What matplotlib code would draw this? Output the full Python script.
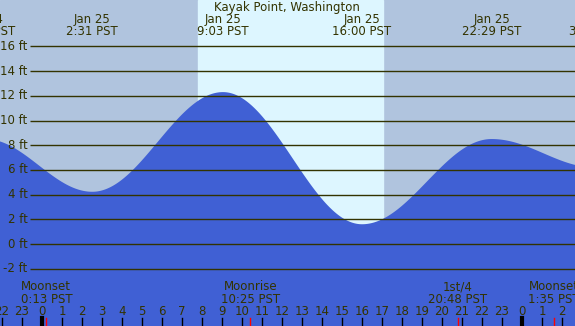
import numpy as np
import matplotlib.pyplot as plt

# tide extremes, hours from Jan 25 00:00 PST
tide_hours = [-2.83, 2.517, 9.05, 16.0, 22.483, 27.65]
tide_feet = [8.5, 4.23, 12.3, 1.6, 8.5, 6.2]
tide_labels = ['21:10 PST', '2:31 PST', '9:03 PST', '16:00 PST', '22:29 PST', '3:39 PST']
tide_dates = ['Jan 24', 'Jan 25', 'Jan 25', 'Jan 25', 'Jan 25', 'Jan 26']

# moon events
moon_hours = [0.217, 10.417, 20.8, 25.583]
moon_names = ['Moonset', 'Moonrise', '1st/4', 'Moonset']
moon_times = ['0:13 PST', '10:25 PST', '20:48 PST', '1:35 PST']

sunrise, sunset = 7.8, 17.05
y_levels = [-2, 0, 2, 4, 6, 8, 10, 12, 14, 16]

x0, x1 = -2.1, 26.65
y0, y1 = -6.64, 19.76

txt = '#333300'
night = '#b0c4de'
day = '#ddf6ff'
water = '#4060d4'

# cosine interpolation between extremes
t = np.linspace(x0, x1, 1200)
h = np.zeros_like(t)
for i in range(len(tide_hours) - 1):
    ta, tb = tide_hours[i], tide_hours[i + 1]
    ha, hb = tide_feet[i], tide_feet[i + 1]
    m = (t >= ta) & (t <= tb)
    p = (t[m] - ta) / (tb - ta)
    h[m] = hb + (ha - hb) * (1 + np.cos(np.pi * p)) / 2

fig = plt.figure(figsize=(5.75, 3.26), dpi=100)
ax = fig.add_axes([0, 0, 1, 1])
ax.set_xlim(x0, x1)
ax.set_ylim(y0, y1)
ax.axis('off')

ax.axvspan(x0, x1, color=night, zorder=0)
ax.axvspan(sunrise, sunset, color=day, zorder=1)
ax.fill_between(t, h, y0 - 1, color=water, lw=0, zorder=2)

ax.hlines(y_levels, -0.62, x1, color=txt, lw=1.0, zorder=3)
for y in y_levels:
    ax.text(-0.72, y, f'{y} ft', ha='right', va='center', fontsize=8.5, color=txt, zorder=4)

tr = ax.get_xaxis_transform()
ax.text(12.25, 0.978, 'Kayak Point, Washington', transform=tr, ha='center', va='center',
        fontsize=8.5, color=txt)
for hr, d, lab in zip(tide_hours, tide_dates, tide_labels):
    ax.text(hr, 0.941, d, transform=tr, ha='center', va='center', fontsize=8.5, color=txt)
    ax.text(hr, 0.903, lab, transform=tr, ha='center', va='center', fontsize=8.5, color=txt)

for hr, n, lab in zip(moon_hours, moon_names, moon_times):
    ax.text(hr, 0.1206, n, transform=tr, ha='center', va='center', fontsize=8.5, color=txt)
    ax.text(hr, 0.082, lab, transform=tr, ha='center', va='center', fontsize=8.5, color=txt)
    ax.plot([hr, hr], [0, 0.0245], transform=tr, color='red', lw=1, zorder=5)

for hr in range(-2, 27):
    lw = 3 if hr % 24 == 0 else 1
    ax.plot([hr, hr], [0, 0.0245], transform=tr, color='black', lw=lw, zorder=4)
    ax.text(hr, 0.044, str(hr % 24), transform=tr, ha='center', va='center',
            fontsize=8.5, color=txt)

fig.savefig('out.png', dpi=100)
